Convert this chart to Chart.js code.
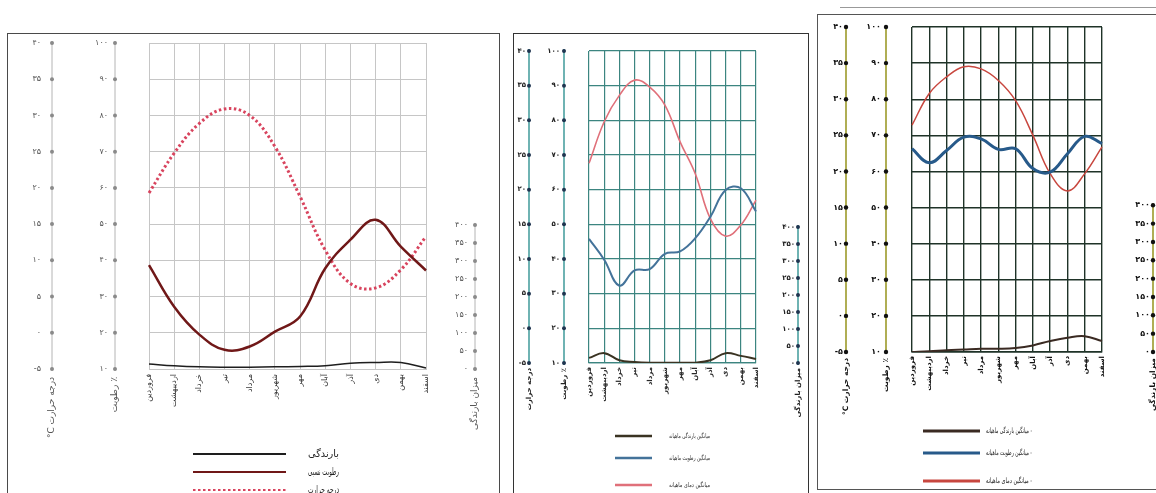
<!DOCTYPE html>
<html><head><meta charset="utf-8">
<script src="https://cdn.jsdelivr.net/npm/chart.js@4.4.1/dist/chart.umd.min.js"></script>
<style>
html,body{margin:0;padding:0;background:#fff;width:1156px;height:493px;overflow:hidden;position:relative}
.panel{position:absolute;box-sizing:border-box;background:#fff}
canvas{position:absolute}
</style></head><body>
<div class="panel" style="left:7px;top:33px;width:493px;height:480px;border:1.5px solid #4a4a4a"></div>
<div class="panel" style="left:513px;top:33px;width:296px;height:480px;border:1.5px solid #333"></div>
<div class="panel" style="left:817px;top:14px;width:400px;height:476px;border:1.5px solid #555"></div>
<div style="position:absolute;left:840px;top:7px;width:316px;height:0;border-top:1px solid #999"></div>
<canvas id="c1" width="489" height="458" style="left:9px;top:35px"></canvas>
<canvas id="c2" width="292" height="458" style="left:515px;top:35px"></canvas>
<canvas id="c3" width="337" height="472" style="left:819px;top:16px"></canvas>
<script>
// ---- data ----
const months = ['فروردین','اردیبهشت','خرداد','تیر','مرداد','شهریور','مهر','آبان','آذر','دی','بهمن','اسفند'];
const tempTicks = [-5,0,5,10,15,20,25,30,35,40];
const humTicks = [10,20,30,40,50,60,70,80,90,100];
const rainTicks = [0,50,100,150,200,250,300,350,400];

// chart 1
const rainA = [14, 9, 6, 5, 5, 6, 7, 9, 16, 18, 18, 3];
const humA  = [38.7, 27.2, 19.5, 15.3, 16.2, 20.3, 24.5, 37.8, 45.7, 51.2, 43.8, 37.2];
const tempA = [19.3, 24.8, 28.9, 30.9, 30.0, 25.7, 18.8, 11.4, 6.8, 6.2, 8.7, 13.3];
const legendA = ['بارندگی','رطوبت نسبی','درجه حرارت'];
// chart 2
const rainB = [15, 29, 8, 3, 1, 1, 1, 1, 8, 29, 21, 12];
const humB  = [45.8, 39.8, 32.3, 36.7, 37.1, 41.5, 42.2, 46.0, 52.2, 59.9, 60.4, 53.7];
const tempB = [23.8, 29.8, 33.6, 35.8, 34.8, 32.2, 26.9, 22.3, 15.8, 13.3, 14.9, 18.5];
const legendB = ['میانگین بارندگی ماهیانه','میانگین رطوبت ماهیانه','میانگین دمای ماهیانه'];
// chart 3
const rainC = [0, 2, 5, 7, 9, 9, 11, 18, 30, 39, 43, 30];
const humC  = [66.3, 62.4, 65.8, 69.5, 69.0, 66.1, 66.3, 60.8, 59.8, 64.9, 69.7, 67.7];
const tempC = [26.4, 30.8, 33.1, 34.5, 34.2, 32.6, 29.8, 25.0, 19.7, 17.3, 19.7, 23.4];
const legendC = ['- میانگین بارندگی ماهیانه','- میانگین رطوبت ماهیانه','- میانگین دمای ماهیانه'];

const tempTitles = ['درجه حرارت C°','درجه حرارت','درجه حرارت C°'];
const humTitle = '٪ رطوبت';
const rainTitle = 'میزان بارندگی';

const F = '"DejaVu Sans", sans-serif';
const fa = n => String(n).replace(/\d/g, d => '۰۱۲۳۴۵۶۷۸۹'[+d]);

function makeDecor(D) {
  return {
    id: 'decor',
    afterDraw(chart) {
      const ctx = chart.ctx;
      const area = chart.chartArea;
      D.axes.forEach(ax => {
        const sc = chart.scales[ax.scale];
        const vals = ax.ticks;
        const yTop = sc.getPixelForValue(Math.max(...vals));
        const yBot = sc.getPixelForValue(Math.min(...vals));
        ctx.save();
        ctx.strokeStyle = D.lineColor; ctx.lineWidth = D.lineWidth;
        ctx.beginPath(); ctx.moveTo(ax.x, yTop - 2); ctx.lineTo(ax.x, yBot + 2); ctx.stroke();
        vals.forEach(v => {
          const y = sc.getPixelForValue(v);
          ctx.fillStyle = D.dotColor;
          ctx.beginPath(); ctx.arc(ax.x, y, D.dotR, 0, Math.PI * 2); ctx.fill();
          ctx.fillStyle = D.textColor; ctx.font = D.tickFont;
          ctx.textAlign = 'right'; ctx.textBaseline = 'middle'; ctx.direction = 'ltr';
          ctx.fillText(fa(v), ax.x - ax.gap, y);
        });
        ctx.translate(ax.x, area.bottom + D.titleOff);
        ctx.rotate(-Math.PI / 2);
        ctx.direction = 'rtl'; ctx.textAlign = 'right'; ctx.textBaseline = 'middle';
        ctx.fillStyle = D.textColor; ctx.font = D.titleFont;
        ctx.fillText(ax.title, 0, 0);
        ctx.restore();
      });
      // legend
      const L = D.legend;
      chart.data.datasets.forEach((ds, i) => {
        const y = L.ys[i];
        ctx.save();
        ctx.strokeStyle = ds.borderColor;
        ctx.lineWidth = L.lineWidth;
        ctx.setLineDash(ds.borderDash || []);
        ctx.beginPath(); ctx.moveTo(L.x1, y); ctx.lineTo(L.x2, y); ctx.stroke();
        ctx.setLineDash([]);
        ctx.fillStyle = L.color; ctx.font = L.font;
        ctx.direction = 'rtl'; ctx.textAlign = 'right'; ctx.textBaseline = 'middle';
        ctx.fillText(ds.label, L.textX, y, L.maxW);
        ctx.restore();
      });
    }
  };
}

function build(id, P) {
  const mk = (label, data, axis, st) => Object.assign({label, data, yAxisID: axis, fill: false, pointRadius: 0, tension: 0.4}, st);
  new Chart(document.getElementById(id), {
    type: 'line',
    data: {
      labels: months,
      datasets: [
        mk(P.legend[0], P.rain, 'yR', P.rainStyle),
        mk(P.legend[1], P.hum, 'yH', P.humStyle),
        mk(P.legend[2], P.temp, 'yT', P.tempStyle)
      ]
    },
    options: {
      responsive: false, animation: false, events: [],
      layout: {padding: {left: P.pad[0], right: P.pad[1], top: P.pad[2], bottom: 0}},
      plugins: {legend: {display: false}, tooltip: {enabled: false}},
      scales: {
        x: {
          type: 'category', offset: false,
          afterFit: s => { s.height = P.xH; },
          grid: {color: P.grid, lineWidth: P.gridW, drawTicks: false},
          border: {color: P.grid, width: P.gridW},
          ticks: {autoSkip: false, minRotation: 90, maxRotation: 90, padding: P.xPad, color: P.xColor,
                  font: {family: F, size: P.xSize, weight: P.xWeight}}
        },
        yT: {
          position: 'left', min: -5, max: 40,
          afterBuildTicks: s => { s.ticks = tempTicks.map(v => ({value: v})); },
          afterFit: s => { s.width = 0; },
          ticks: {display: false},
          grid: {color: P.grid, lineWidth: P.gridW, drawTicks: false},
          border: {display: false}
        },
        yH: {display: false, min: 10, max: 100},
        yR: {display: false, min: 0, max: P.rainMax}
      }
    },
    plugins: [makeDecor(P.decor)]
  });
}

build('c1', {
  rain: rainA, hum: humA, temp: tempA, legend: legendA,
  rainStyle: {borderColor: '#1e1e1e', borderWidth: 1.5},
  humStyle: {borderColor: '#701818', borderWidth: 2.5},
  tempStyle: {borderColor: '#d8445e', borderWidth: 3, borderDash: [2.5, 2.5]},
  pad: [140, 72, 8], xH: 124, xPad: 5, xColor: '#333', xSize: 8, xWeight: 'normal',
  grid: '#c6c6c6', gridW: 1, rainMax: 905,
  decor: {
    lineColor: '#b4b4b4', lineWidth: 1, dotColor: '#8a8a8a', dotR: 2,
    textColor: '#555', tickFont: '8px ' + F, titleFont: '9px ' + F, titleOff: 8,
    axes: [
      {scale: 'yT', ticks: tempTicks, x: 43, gap: 11, title: tempTitles[0]},
      {scale: 'yH', ticks: humTicks, x: 106, gap: 7, title: humTitle},
      {scale: 'yR', ticks: rainTicks, x: 466, gap: 7, title: rainTitle}
    ],
    legend: {x1: 184, x2: 277, ys: [419, 437, 455], textX: 330, lineWidth: 2, color: '#222', font: '10px ' + F, maxW: 31}
  }
});

build('c2', {
  rain: rainB, hum: humB, temp: tempB, legend: legendB,
  rainStyle: {borderColor: '#3a3322', borderWidth: 2},
  humStyle: {borderColor: '#44739a', borderWidth: 2},
  tempStyle: {borderColor: '#e0707a', borderWidth: 1.6},
  pad: [74, 51, 16], xH: 130, xPad: 4, xColor: '#2a2a2a', xSize: 7, xWeight: 'bold',
  grid: '#3c8580', gridW: 1.2, rainMax: 918,
  decor: {
    lineColor: '#3f9a9a', lineWidth: 1.5, dotColor: '#1f3550', dotR: 2,
    textColor: '#222', tickFont: 'bold 7px ' + F, titleFont: 'bold 7px ' + F, titleOff: 5,
    axes: [
      {scale: 'yT', ticks: tempTicks, x: 14, gap: 3, title: tempTitles[1]},
      {scale: 'yH', ticks: humTicks, x: 49, gap: 4, title: humTitle},
      {scale: 'yR', ticks: rainTicks, x: 283, gap: 3, title: rainTitle}
    ],
    legend: {x1: 100, x2: 137, ys: [401, 423, 450], textX: 195, lineWidth: 2.5, color: '#333', font: '6.5px ' + F, maxW: 41}
  }
});

build('c3', {
  rain: rainC, hum: humC, temp: tempC, legend: legendC,
  rainStyle: {borderColor: '#3a2a22', borderWidth: 2},
  humStyle: {borderColor: '#275a8a', borderWidth: 3},
  tempStyle: {borderColor: '#c8473f', borderWidth: 1.5},
  pad: [93, 54, 11], xH: 136, xPad: 4, xColor: '#111', xSize: 7, xWeight: 'bold',
  grid: '#1f3328', gridW: 1.4, rainMax: 886,
  decor: {
    lineColor: '#9c9a2a', lineWidth: 1.6, dotColor: '#111', dotR: 2.2,
    textColor: '#111', tickFont: 'bold 8px ' + F, titleFont: 'bold 7.5px ' + F, titleOff: 6,
    axes: [
      {scale: 'yT', ticks: tempTicks, x: 27, gap: 3, title: tempTitles[2]},
      {scale: 'yH', ticks: humTicks, x: 67, gap: 5, title: humTitle},
      {scale: 'yR', ticks: rainTicks, x: 334, gap: 3, title: rainTitle}
    ],
    legend: {x1: 104, x2: 161, ys: [415, 437, 465], textX: 213, lineWidth: 3, color: '#222', font: '7.5px ' + F, maxW: 46}
  }
});
</script>
</body></html>
